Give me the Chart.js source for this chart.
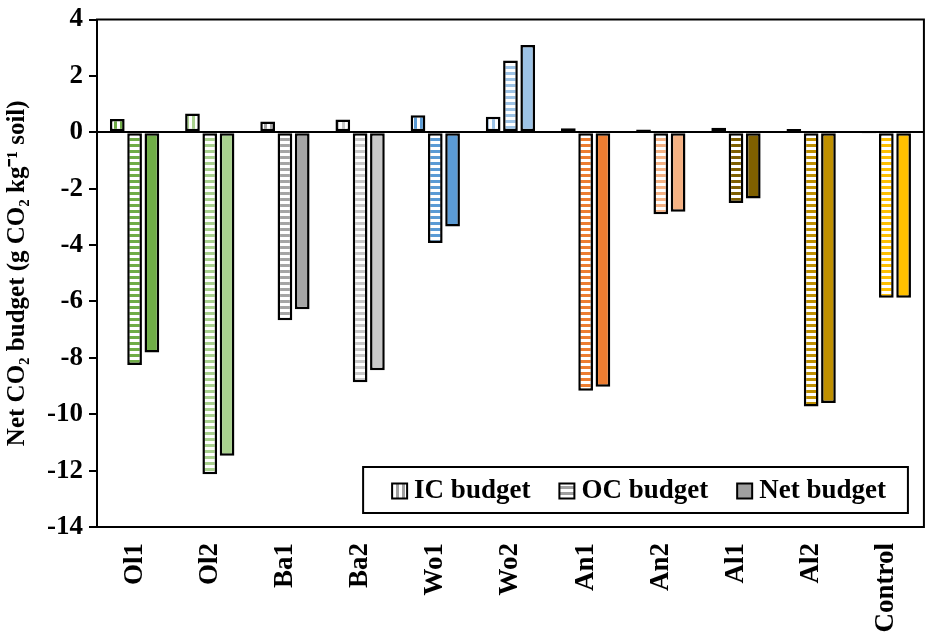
<!DOCTYPE html>
<html>
<head>
<meta charset="utf-8">
<script src="https://cdn.jsdelivr.net/npm/chart.js@4.4.0/dist/chart.umd.min.js"></script>
<style>
  html, body { margin: 0; padding: 0; background: #fff; }
  #wrap { width: 935px; height: 642px; position: relative; }
</style>
</head>
<body>
<div id="wrap"><canvas id="budgetChart"></canvas></div>
<script>
// values (g CO2 per kg soil)
const categories = ["Ol1", "Ol2", "Ba1", "Ba2", "Wo1", "Wo2", "An1", "An2", "Al1", "Al2", "Control"];
const icBudget = [0.47, 0.67, 0.38, 0.45, 0.6, 0.55, 0.14, 0.1, 0.16, 0.12, -0.02];
const ocBudget = [-8.25, -12.13, -6.67, -8.87, -3.93, 2.55, -9.17, -2.91, -2.51, -9.73, -5.87];
const netBudget = [-7.81, -11.47, -6.28, -8.44, -3.34, 3.1, -9.03, -2.82, -2.35, -9.6, -5.87];
const seriesNames = ["IC budget", "OC budget", "Net budget"];
const yTicks = { min: -14, max: 4, step: 2 };

const catColors = ["#70AD47", "#A9D18E", "#A5A5A5", "#C9C9C9", "#5B9BD5", "#9DC3E6",
                   "#ED7D31", "#F4B183", "#7F6000", "#BF9000", "#FFC000"];
const FONT = '"Liberation Serif", "Times New Roman", serif';

// little striped tiles for the IC / OC bars
function stripes(color, dir) {
  const c = document.createElement("canvas");
  c.width = 6; c.height = 6;
  const g = c.getContext("2d");
  g.fillStyle = "#fff";
  g.fillRect(0, 0, 6, 6);
  g.fillStyle = color;
  if (dir === "v") g.fillRect(0, 0, 3, 6);
  else g.fillRect(0, 0, 6, 3);
  return g.createPattern(c, "repeat");
}

const legendGray = "#A0A0A0";

const datasets = [
  { label: seriesNames[0], data: icBudget,
    backgroundColor: catColors.map(c => stripes(c, "v")), legendFill: stripes(legendGray, "v") },
  { label: seriesNames[1], data: ocBudget,
    backgroundColor: catColors.map(c => stripes(c, "h")), legendFill: stripes(legendGray, "h") },
  { label: seriesNames[2], data: netBudget,
    backgroundColor: catColors, legendFill: legendGray }
];
datasets.forEach(d => {
  d.borderColor = "#000";
  d.borderWidth = 2.5;
  d.borderSkipped = false;
  d.categoryPercentage = 0.69;
  d.barPercentage = 0.85;
});

// box round the plot area
const frame = {
  id: "frame",
  afterDatasetsDraw(chart) {
    const { ctx, chartArea: a } = chart;
    ctx.save();
    ctx.strokeStyle = "#000";
    ctx.lineWidth = 2;
    ctx.strokeRect(a.left, a.top, a.right - a.left, a.bottom - a.top);
    ctx.restore();
  }
};

// legend sits inside the plot, bottom right, in a framed box
const boxLegend = {
  id: "boxLegend",
  afterDraw(chart) {
    const { ctx, chartArea: a } = chart;
    ctx.save();
    ctx.font = "bold 27px " + FONT;
    const sw = 15, gapText = 7, gapItem = 29, padL = 29, padR = 22, h = 46;
    const items = chart.data.datasets.map(d => ({ text: d.label, fill: d.legendFill, w: ctx.measureText(d.label).width }));
    let total = padL + padR + gapItem * (items.length - 1);
    items.forEach(it => { total += sw + gapText + it.w; });
    const x0 = a.right - 16 - total;
    const y0 = a.bottom - 14 - h;
    ctx.fillStyle = "#fff";
    ctx.fillRect(x0, y0, total, h);
    ctx.strokeStyle = "#000";
    ctx.lineWidth = 2;
    ctx.strokeRect(x0, y0, total, h);
    let x = x0 + padL;
    const cy = y0 + h / 2;
    items.forEach(it => {
      ctx.fillStyle = it.fill;
      ctx.fillRect(x, cy - sw / 2 + 1, sw, sw);
      ctx.lineWidth = 2;
      ctx.strokeRect(x, cy - sw / 2 + 1, sw, sw);
      ctx.fillStyle = "#000";
      ctx.textBaseline = "middle";
      ctx.textAlign = "left";
      ctx.fillText(it.text, x + sw + gapText, cy + 1);
      x += sw + gapText + it.w + gapItem;
    });
    ctx.restore();
  }
};

new Chart(document.getElementById("budgetChart"), {
  type: "bar",
  data: { labels: categories, datasets: datasets },
  plugins: [frame, boxLegend],
  options: {
    responsive: true,
    maintainAspectRatio: false,
    animation: false,
    layout: { padding: { top: 17, right: 6, left: 0, bottom: 0 } },
    plugins: {
      legend: { display: false },
      tooltip: { enabled: false }
    },
    scales: {
      x: {
        afterFit: s => { s.height = 115; },
        grid: { display: false, drawTicks: false },
        border: { display: false },
        ticks: {
          color: "#000",
          autoSkip: false,
          minRotation: 90,
          maxRotation: 90,
          padding: 16,
          font: { family: FONT, size: 27, weight: "bold" }
        }
      },
      y: {
        min: yTicks.min,
        max: yTicks.max,
        afterFit: s => { s.width = 97; },
        border: { display: false },
        grid: {
          color: c => (c.tick && c.tick.value === 0 ? "#000" : "rgba(0,0,0,0)"),
          lineWidth: 2,
          tickColor: "#000",
          tickLength: 8
        },
        ticks: {
          stepSize: yTicks.step,
          color: "#000",
          padding: 6,
          font: { family: FONT, size: 27, weight: "bold", lineHeight: 1 }
        },
        title: {
          display: true,
          text: "Net CO\u2082 budget (g CO\u2082 kg\u207B\u00B9 soil)",
          color: "#000",
          padding: { top: 3, bottom: 4 },
          font: { family: FONT, size: 25, weight: "bold" }
        }
      }
    }
  }
});
</script>
</body>
</html>
